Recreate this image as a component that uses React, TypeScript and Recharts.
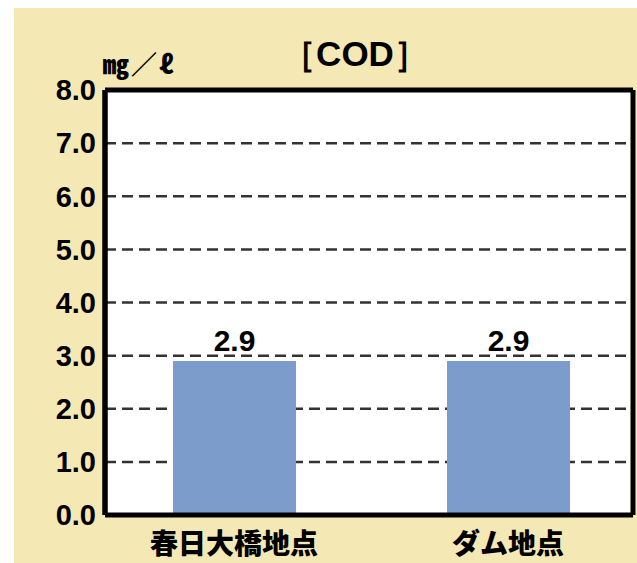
import React from "react";
import { BarChart, Bar, XAxis, YAxis, CartesianGrid, LabelList } from "recharts";

const categories = ["春日大橋地点", "ダム地点"];
const codValues = [2.9, 2.9];
const yTicks = [0, 1, 2, 3, 4, 5, 6, 7, 8];
const titleText = "［COD］";
const unitText = "㎎／ℓ";

const data = categories.map((name, i) => ({ name, value: codValues[i] }));

const BG = "#f4e8b5";
const BAR = "#7c9dcc";
const numFont = "'Liberation Sans', Arial, sans-serif";
const jpFont = "'Noto Sans CJK JP', sans-serif";

export default function App() {
  return (
    <div style={{ position: "fixed", left: 14, top: 8, width: 623, height: 555, background: BG }}>
      <div
        style={{
          position: "absolute",
          left: 241,
          top: 26,
          width: 200,
          textAlign: "center",
          fontFamily: numFont,
          fontWeight: 700,
          fontSize: 35,
          lineHeight: "40px",
          color: "#000",
        }}
      >
        {titleText}
      </div>
      <div
        style={{
          position: "absolute",
          left: 89,
          top: 40,
          fontFamily: jpFont,
          fontWeight: 900,
          fontSize: 26,
          letterSpacing: 2,
          lineHeight: "30px",
          color: "#000",
        }}
      >
        {unitText}
      </div>
      <BarChart
        width={623}
        height={555}
        data={data}
        margin={{ top: 82, right: 4, bottom: 0, left: 0 }}
        barSize={123}
      >
        <CartesianGrid
          vertical={false}
          fill="#ffffff"
          stroke="#333333"
          strokeWidth={2.5}
          strokeDasharray="11 6"
        />
        <CartesianGrid
          stroke="#000"
          strokeWidth={5}
          verticalCoordinatesGenerator={({ offset }: any) => [offset.left, offset.left + offset.width]}
          horizontalCoordinatesGenerator={({ offset }: any) => [offset.top]}
        />
        <XAxis
          dataKey="name"
          height={48}
          padding={{ left: -8, right: -12 }}
          tickLine={false}
          axisLine={{ stroke: "#000", strokeWidth: 5 }}
          tickMargin={13}
          tick={{ fill: "#000", fontFamily: jpFont, fontWeight: 900, fontSize: 28 }}
          interval={0}
        />
        <YAxis
          width={91}
          domain={[0, 8]}
          ticks={yTicks}
          interval={0}
          tickLine={false}
          tickMargin={3}
          axisLine={{ stroke: "#000", strokeWidth: 5 }}
          tickFormatter={(v: number) => v.toFixed(1)}
          tick={{ fill: "#000", fontFamily: numFont, fontWeight: 700, fontSize: 29 }}
        />
        <Bar dataKey="value" fill={BAR} isAnimationActive={false}>
          <LabelList
            dataKey="value"
            position="top"
            offset={10}
            formatter={(v: number) => v.toFixed(1)}
            style={{ fill: "#000", fontFamily: numFont, fontWeight: 700, fontSize: 30 }}
          />
        </Bar>
      </BarChart>
    </div>
  );
}
